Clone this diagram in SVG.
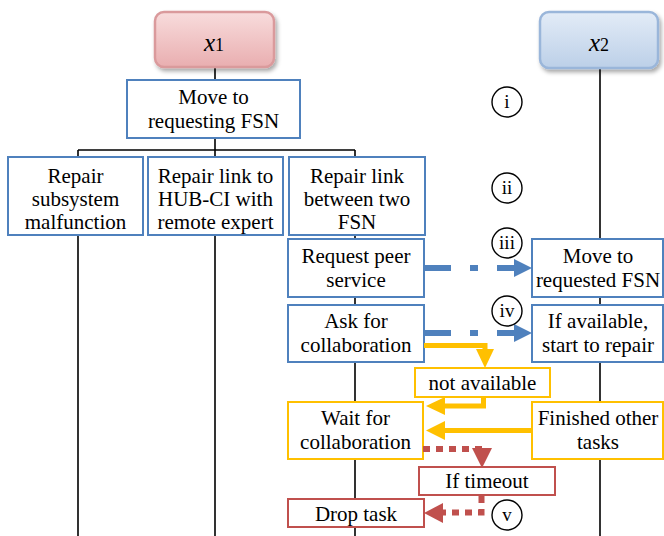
<svg xmlns="http://www.w3.org/2000/svg" width="664" height="536" viewBox="0 0 664 536">
<style>
text{font-size:21px;fill:#000;text-anchor:middle}
.num{font-size:19px}
.lbl{font-size:25px}
.b{fill:#fff;stroke:#4f81bd;stroke-width:2}
.y{fill:#fff;stroke:#ffc000;stroke-width:2}
.r{fill:#fff;stroke:#c0504d;stroke-width:2}
.life{stroke:#000;stroke-width:1.6;fill:none}
.circ{fill:#fff;stroke:#000;stroke-width:1.4}
.ba{stroke:#4f81bd;stroke-width:6;fill:none;stroke-dasharray:27 19 8 19 40}
.ya{stroke:#ffc000;stroke-width:5;fill:none}
.ra{stroke:#c0504d;stroke-width:6;fill:none;stroke-dasharray:7 6}
</style>
<defs>
<linearGradient id="gp" x1="0" y1="0" x2="0" y2="1">
<stop offset="0" stop-color="#f8dcdc"/><stop offset="1" stop-color="#e9aeb0"/>
</linearGradient>
<linearGradient id="gb" x1="0" y1="0" x2="0" y2="1">
<stop offset="0" stop-color="#e3ecf7"/><stop offset="1" stop-color="#bcd0e8"/>
</linearGradient>
<filter id="sh" x="-10%" y="-10%" width="130%" height="140%">
<feDropShadow dx="2" dy="3" stdDeviation="2" flood-color="#000" flood-opacity="0.35"/>
</filter>
</defs>
<rect width="664" height="536" fill="#fff"/>

<g id="connectors">
<path class="life" d="M215 67V80M215 138V150M78 150H355M78 150V157M215 150V157M355 150V157"/>
<path class="life" d="M78 235V536M215 235V536M355 235V536"/>
<path class="life" d="M600 68V536"/>
</g>

<g id="x1"><rect x="155" y="12" width="119" height="55" rx="9" fill="url(#gp)" stroke="#da9a9c" stroke-width="2.5" filter="url(#sh)"/>
<text class="lbl" x="214" y="51" style="font-family:'Liberation Serif',serif"><tspan font-style="italic">x</tspan><tspan font-size="18">1</tspan></text></g>
<g id="x2"><rect x="540" y="12" width="118" height="56" rx="9" fill="url(#gb)" stroke="#9ab6da" stroke-width="2.5" filter="url(#sh)"/>
<text class="lbl" x="599" y="51" style="font-family:'Liberation Serif',serif"><tspan font-style="italic">x</tspan><tspan font-size="18">2</tspan></text></g>

<g id="move-requesting"><rect class="b" x="127" y="80" width="173" height="58"/>
<text x="213.5" y="104" style="font-family:'Liberation Serif',serif">Move to</text><text x="213.5" y="128" style="font-family:'Liberation Serif',serif">requesting FSN</text></g>

<g id="repair-subsystem"><rect class="b" x="8" y="157" width="135" height="78"/>
<text x="75.5" y="183" style="font-family:'Liberation Serif',serif">Repair</text><text x="75.5" y="206" style="font-family:'Liberation Serif',serif">subsystem</text><text x="75.5" y="229" style="font-family:'Liberation Serif',serif">malfunction</text></g>
<g id="repair-hub"><rect class="b" x="148" y="157" width="135" height="78"/>
<text x="215.5" y="183" style="font-family:'Liberation Serif',serif">Repair link to</text><text x="215.5" y="206" style="font-family:'Liberation Serif',serif">HUB-CI with</text><text x="215.5" y="229" style="font-family:'Liberation Serif',serif">remote expert</text></g>
<g id="repair-fsn"><rect class="b" x="289" y="157" width="136" height="78"/>
<text x="357" y="183" style="font-family:'Liberation Serif',serif">Repair link</text><text x="357" y="206" style="font-family:'Liberation Serif',serif">between two</text><text x="357" y="229" style="font-family:'Liberation Serif',serif">FSN</text></g>

<g id="request-peer"><rect class="b" x="288" y="239" width="136" height="58"/>
<text x="356" y="263" style="font-family:'Liberation Serif',serif">Request peer</text><text x="356" y="287" style="font-family:'Liberation Serif',serif">service</text></g>
<g id="ask-collab"><rect class="b" x="288" y="305" width="136" height="57"/>
<text x="356" y="328" style="font-family:'Liberation Serif',serif">Ask for</text><text x="356" y="352" style="font-family:'Liberation Serif',serif">collaboration</text></g>
<g id="move-requested"><rect class="b" x="532" y="239" width="131" height="58"/>
<text x="598" y="263" style="font-family:'Liberation Serif',serif">Move to</text><text x="598" y="287" style="font-family:'Liberation Serif',serif">requested FSN</text></g>
<g id="if-available"><rect class="b" x="532" y="305" width="131" height="57"/>
<text x="598" y="328" style="font-family:'Liberation Serif',serif">If available,</text><text x="598" y="352" style="font-family:'Liberation Serif',serif">start to repair</text></g>

<g id="not-available"><rect class="y" x="415" y="368" width="135" height="29"/>
<text x="482.5" y="390" style="font-family:'Liberation Serif',serif">not available</text></g>
<g id="wait-collab"><rect class="y" x="288" y="402" width="135" height="57"/>
<text x="355.5" y="425" style="font-family:'Liberation Serif',serif">Wait for</text><text x="355.5" y="449" style="font-family:'Liberation Serif',serif">collaboration</text></g>
<g id="finished-other"><rect class="y" x="532" y="402" width="131" height="57"/>
<text x="598" y="425" style="font-family:'Liberation Serif',serif">Finished other</text><text x="598" y="449" style="font-family:'Liberation Serif',serif">tasks</text></g>

<g id="if-timeout"><rect class="r" x="419" y="467" width="136" height="28"/>
<text x="487" y="488" style="font-family:'Liberation Serif',serif">If timeout</text></g>
<g id="drop-task"><rect class="r" x="288" y="499" width="136" height="28"/>
<text x="356" y="521" style="font-family:'Liberation Serif',serif">Drop task</text></g>

<g id="arrows">
<path class="ba" d="M424 268H515"/><polygon points="514,259 532,268 514,277" fill="#4f81bd"/>
<path class="ba" d="M424 333H515"/><polygon points="514,324 532,333 514,342" fill="#4f81bd"/>
<path class="ya" d="M424 345.5H485V351"/><polygon points="476,349 494,349 485,368" fill="#ffc000"/>
<path class="ya" d="M483.5 397V406H444"/><polygon points="445,397 445,415 426,406" fill="#ffc000"/>
<path class="ya" d="M532 430.5H444"/><polygon points="445,421 445,440 426,430.5" fill="#ffc000"/>
<path class="ra" d="M423 449H482V450"/><polygon points="472,448 492,448 482,468" fill="#c0504d"/>
<path class="ra" d="M481.5 496V512.5H443"/><polygon points="443,503 443,523 424,513" fill="#c0504d"/>
</g>

<g id="labels">
<circle class="circ" cx="507" cy="102" r="15"/><text class="num" x="507" y="108" style="font-family:'Liberation Serif',serif">i</text>
<circle class="circ" cx="507" cy="188" r="15"/><text class="num" x="507" y="194" style="font-family:'Liberation Serif',serif">ii</text>
<circle class="circ" cx="507" cy="243" r="15"/><text class="num" x="507" y="249" style="font-family:'Liberation Serif',serif">iii</text>
<circle class="circ" cx="507" cy="311" r="15"/><text class="num" x="507" y="317" style="font-family:'Liberation Serif',serif">iv</text>
<circle class="circ" cx="507" cy="515" r="15"/><text class="num" x="507" y="521" style="font-family:'Liberation Serif',serif">v</text>
</g>
</svg>
